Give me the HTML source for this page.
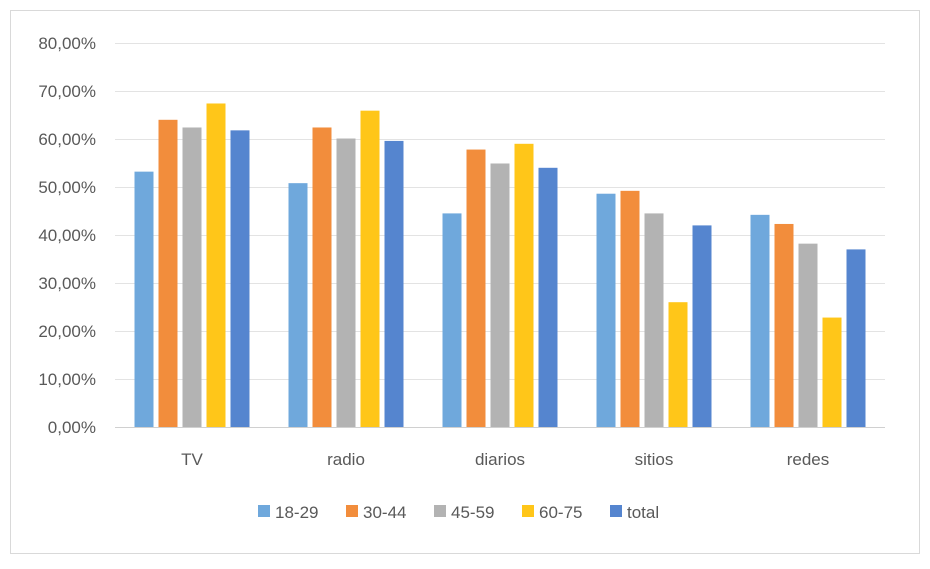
<!DOCTYPE html>
<html><head><meta charset="utf-8"><style>
body{margin:0;background:#fff;width:930px;height:564px;overflow:hidden}
svg{font-family:"Liberation Sans",sans-serif}
</style></head><body>
<svg id="c" width="930" height="564">
<rect x="10.5" y="10.5" width="909" height="543" fill="#fff" stroke="#d9d9d9"/>
<g id="grid"></g><g id="bars"></g><g id="labels"></g><g id="legend"></g>
</svg>
<script>
const categories=["TV","radio","diarios","sitios","redes"];
const seriesNames=["18-29","30-44","45-59","60-75","total"];
const colors=["#6fa8dc","#f28d3c","#b3b3b3","#ffc619","#5585cf"];
const s1829=[53.2,50.8,44.5,48.6,44.2];
const s3044=[64.0,62.4,57.8,49.2,42.3];
const s4559=[62.4,60.1,54.9,44.5,38.2];
const s6075=[67.4,65.9,59.0,26.0,22.8];
const sTotal=[61.8,59.6,54.0,42.0,37.0];
const yTicks=[0,10,20,30,40,50,60,70,80];
const series=[s1829,s3044,s4559,s6075,sTotal];
const NS="http://www.w3.org/2000/svg";
const x0=115,x1=885,yBase=427,yTop=43,yMax=80;
const y=v=>yBase-(v/yMax)*(yBase-yTop);
const bw=(x1-x0)/categories.length;
const barW=19,gap=5;
function mk(t,a,p){const e=document.createElementNS(NS,t);for(const k in a)e.setAttribute(k,a[k]);p.appendChild(e);return e;}
const g=document.getElementById('grid'),b=document.getElementById('bars'),l=document.getElementById('labels'),lg=document.getElementById('legend');
yTicks.forEach(t=>{
 const ln=mk('line',{x1:x0,x2:x1,y1:y(t)+0.5,y2:y(t)+0.5,stroke:t===0?'#d0d0d0':'#e3e3e3'},g);
 
 
 const tx=mk('text',{x:96,y:y(t)+6,'text-anchor':'end','font-size':17,fill:'#595959'},l);
 tx.textContent=t.toFixed(2).replace('.',',')+'%';
 
 
});
categories.forEach((c,i)=>{
 const cx=x0+bw*(i+0.5);
 const total=series.length*barW+(series.length-1)*gap;
 series.forEach((s,j)=>{
  const bx=cx-total/2+j*(barW+gap);
  const r=mk('rect',{x:bx,y:y(s[i]),width:barW,height:yBase-y(s[i]),fill:colors[j]},b);
  
  
 });
 const tx=mk('text',{x:cx,y:465,'text-anchor':'middle','font-size':17,fill:'#595959'},l);
 tx.textContent=c;
 
 
});
const lx=[258,346,434,522,610];
seriesNames.forEach((n,j)=>{
 const gg=mk('g',{},lg);
 
 
 mk('rect',{x:lx[j],y:505,width:12,height:12,fill:colors[j]},gg);
 const t=mk('text',{x:lx[j]+17,y:518,'font-size':17,fill:'#595959'},gg);
 t.textContent=n;
});
</script>
</body></html>
